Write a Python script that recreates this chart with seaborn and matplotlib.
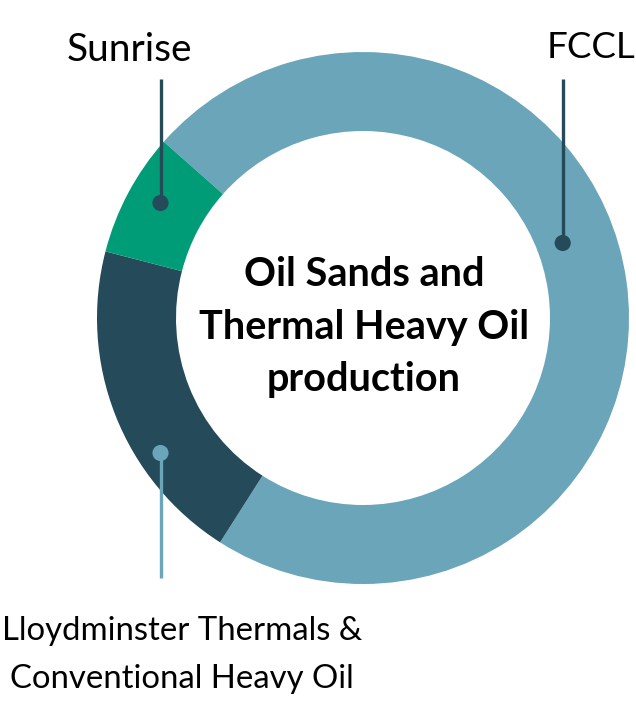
import matplotlib
matplotlib.use("Agg")
import matplotlib.pyplot as plt
import seaborn as sns
import pandas as pd

# Data
segments = ["FCCL", "Lloydminster Thermals &\nConventional Heavy Oil", "Sunrise"]
shares = [72.5, 20.0, 7.5]
colors = ["#6AA5BA", "#254B5A", "#009B77"]
center_title = "Oil Sands and\nThermal Heavy Oil\nproduction"

sns.set_theme(style="white")
plt.rcParams['font.family'] = ['Lato', 'DejaVu Sans']

W, H = 636, 704
fig = plt.figure(figsize=(W / 100, H / 100), dpi=100)
ax = fig.add_axes([0, 0, 1, 1])

def Y(y):
    return H - y

cx, cy, R = 363, 318, 266
ax.pie(shares, colors=colors, startangle=138.5, counterclock=False,
       center=(cx, Y(cy)), radius=R,
       wedgeprops=dict(width=R * 0.297, edgecolor="none", linewidth=0))

ax.set_xlim(0, W)
ax.set_ylim(0, H)
ax.set_aspect("equal")
ax.axis("off")

# Center text
ax.text(cx + 1, Y(327), center_title, ha="center", va="center",
        fontsize=28.5, fontweight="bold", color="black", linespacing=1.53)

# Leader lines and dots
dark = "#254B5A"
light = "#6AA5BA"
leaders = pd.DataFrame({
    "x": [160.5, 562.7, 160.5],
    "y_top": [79, 79, 453],
    "y_bot": [203, 243, 578],
    "dot_y": [203, 243, 453],
    "color": [dark, dark, light],
})
for _, r in leaders.iterrows():
    ax.plot([r.x, r.x], [Y(r.y_top), Y(r.y_bot)], color=r.color, lw=2.4,
            solid_capstyle="butt")
sns.scatterplot(x=leaders["x"], y=[Y(v) for v in leaders["dot_y"]],
                hue=leaders["color"], palette={dark: dark, light: light},
                s=135, linewidth=0, legend=False, ax=ax)

# Labels
ax.text(129, Y(50), segments[2], ha="center", va="center", fontsize=28,
        color="black")
ax.text(591, Y(47), segments[0], ha="center", va="center", fontsize=26.5,
        color="black")
ax.text(182, Y(655), segments[1], ha="center", va="center", fontsize=23.7,
        color="black", linespacing=1.78)

fig.savefig("out.png", dpi=100)
